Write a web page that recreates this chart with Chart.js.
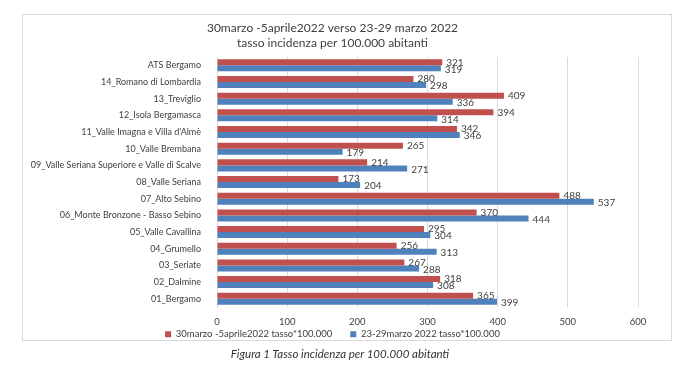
<!DOCTYPE html>
<html lang="it">
<head>
<meta charset="UTF-8">
<title>Tasso incidenza per 100.000 abitanti</title>
<script src="https://cdn.jsdelivr.net/npm/chart.js"></script>
<style>
    body { margin: 0; background: #fff; width: 680px; height: 369px; position: relative; font-family: Lato, "Open Sans", sans-serif; }
    #box { position: absolute; left: 22px; top: 14px; width: 650px; height: 327px; border: 1px solid #d9d9d9; box-sizing: border-box; }
    #chart { position: absolute; left: 0; top: 0; }
    #caption { position: absolute; left: 0; width: 680px; top: 347px; text-align: center; font-style: italic; font-size: 11.5px; color: #333; }
</style>
</head>
<body>
<div id="box"><canvas id="chart" width="648" height="363"></canvas></div>
<div id="caption">Figura 1 Tasso incidenza per 100.000 abitanti</div>
<script>
    // dati (dall'alto verso il basso)
    const categories = [
        'ATS Bergamo',
        '14_Romano di Lombardia',
        '13_Treviglio',
        '12_Isola Bergamasca',
        "11_Valle Imagna e Villa d'Almè",
        '10_Valle Brembana',
        '09_Valle Seriana Superiore e Valle di Scalve',
        '08_Valle Seriana',
        '07_Alto Sebino',
        '06_Monte Bronzone - Basso Sebino',
        '05_Valle Cavallina',
        '04_Grumello',
        '03_Seriate',
        '02_Dalmine',
        '01_Bergamo'
    ];
    const aprile = [321, 280, 409, 394, 342, 265, 214, 173, 488, 370, 295, 256, 267, 318, 365];
    const marzo = [319, 298, 336, 314, 346, 179, 271, 204, 537, 444, 304, 313, 288, 308, 399];
    const xTicks = [0, 100, 200, 300, 400, 500, 600];
    const seriesNames = ['30marzo -5aprile2022 tasso*100.000', '23-29marzo 2022 tasso*100.000'];

    // etichette dei valori a destra delle barre
    const valueLabels = {
        id: 'valueLabels',
        afterDatasetsDraw(chart) {
            const ctx = chart.ctx;
            ctx.save();
            ctx.font = '10px Lato, sans-serif';
            ctx.fillStyle = '#404040';
            ctx.textBaseline = 'middle';
            chart.data.datasets.forEach((ds, i) => {
                chart.getDatasetMeta(i).data.forEach((bar, j) => {
                    ctx.fillText(ds.data[j], bar.x + 4, bar.y + (i === 0 ? 0 : 1));
                });
            });
            ctx.restore();
        }
    };

    // legenda un po' più vicina alle etichette dell'asse x
    const legendUp = {
        id: 'legendUp',
        afterLayout(chart) {
            chart.legend.top -= 25;
            chart.legend.bottom -= 25;
        }
    };

    new Chart(document.getElementById('chart').getContext('2d'), {
        type: 'bar',
        data: {
            labels: categories,
            datasets: [
                { label: seriesNames[0], data: aprile, backgroundColor: '#c0504d', categoryPercentage: 0.72, barPercentage: 1.0 },
                { label: seriesNames[1], data: marzo, backgroundColor: '#4f81bd', categoryPercentage: 0.72, barPercentage: 1.0 }
            ]
        },
        options: {
            indexAxis: 'y',
            responsive: false,
            animation: false,
            layout: { padding: { left: 4, right: 33, top: 6, bottom: 4 } },
            plugins: {
                title: {
                    display: true,
                    text: ['30marzo -5aprile2022 verso 23-29 marzo 2022', 'tasso incidenza per 100.000 abitanti'],
                    color: '#404040',
                    font: { family: 'Lato', size: 12, weight: 'normal', lineHeight: 1.25 },
                    padding: { top: 0, bottom: 6 }
                },
                legend: {
                    position: 'bottom',
                    padding: 0,
                    labels: {
                        color: '#404040',
                        font: { family: 'Lato', size: 9.5 },
                        boxWidth: 6,
                        boxHeight: 6,
                        padding: 18
                    }
                },
                tooltip: { enabled: false }
            },
            scales: {
                x: {
                    min: 0,
                    max: 600,
                    afterBuildTicks: (axis) => { axis.ticks = xTicks.map(v => ({ value: v })); },
                    grid: { color: '#d9d9d9', drawTicks: false },
                    border: { display: false },
                    ticks: { color: '#404040', font: { family: 'Lato', size: 9.5 }, padding: 9 }
                },
                y: {
                    grid: { display: false },
                    border: { color: '#d9d9d9' },
                    ticks: { color: '#404040', font: { family: 'Lato', size: 9 }, padding: 8 },
                    afterFit: (axis) => { axis.width = 190; }
                }
            }
        },
        plugins: [valueLabels, legendUp]
    });
</script>
</body>
</html>
